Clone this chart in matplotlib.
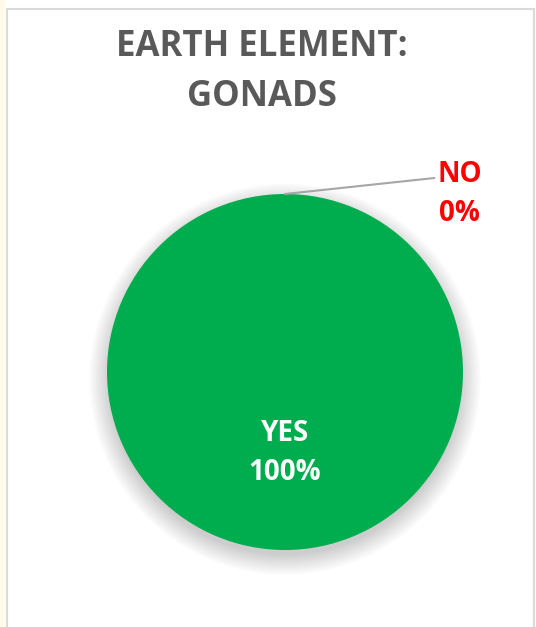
import matplotlib.pyplot as plt
from matplotlib.patches import Rectangle, Circle

# chart data
categories = ['YES', 'NO']
shares = [100, 0]
colors = ['#00AD4E', '#C00000']
title = 'EARTH ELEMENT:\nGONADS'

W, H = 536, 627
fig = plt.figure(figsize=(W / 100, H / 100), dpi=100)
fig.patch.set_facecolor('white')

# sheet strip and chart frame
fig.add_artist(Rectangle((0, 0), 5 / W, 1, transform=fig.transFigure,
                         facecolor='#FFFBE8', edgecolor='none'))
fig.add_artist(Rectangle((7 / W, -0.01), (W - 9) / W, 1 - 9 / H + 0.01,
                         transform=fig.transFigure, facecolor='none',
                         edgecolor='#DADADA', linewidth=1.5))

cx, cy, r = 285, 372, 178
ax = fig.add_axes([(cx - r) / W, 1 - (cy + r) / H, 2 * r / W, 2 * r / H])

# soft shadow
for i in range(10):
    ax.add_patch(Circle((0, -0.04), 0.99 + 0.012 * i, facecolor='black',
                        alpha=0.02, edgecolor='none', zorder=0,
                        clip_on=False))

wedges, _ = ax.pie(shares, colors=colors, startangle=90, counterclock=False,
                   radius=1, wedgeprops=dict(linewidth=0))
for w in wedges:
    w.set_zorder(2)
ax.set_xlim(-1, 1)
ax.set_ylim(-1, 1)
ax.axis('off')

fnt = 'Open Sans'
ax.text(0, -0.455, f'{categories[0]}\n{shares[0]}%', ha='center', va='center',
        color='white', fontsize=20, fontweight='bold', family=fnt,
        linespacing=1.45, zorder=3)

ax.annotate(f'{categories[1]}\n{shares[1]}%', xy=(0, 1.0), xytext=(0.98, 1.0),
            ha='center', va='center', color='#FF0000', fontsize=20,
            fontweight='bold', family=fnt, linespacing=1.45,
            annotation_clip=False,
            arrowprops=dict(arrowstyle='-', color='#A6A6A6', lw=1.5,
                            shrinkA=0, shrinkB=0,
                            relpos=(0.0, 0.74)))

fig.text(262 / W, 1 - 72 / H, title, ha='center', va='center',
         color='#595959', fontsize=25, fontweight='bold', family=fnt,
         linespacing=1.55)

fig.savefig('out.png', dpi=100)
